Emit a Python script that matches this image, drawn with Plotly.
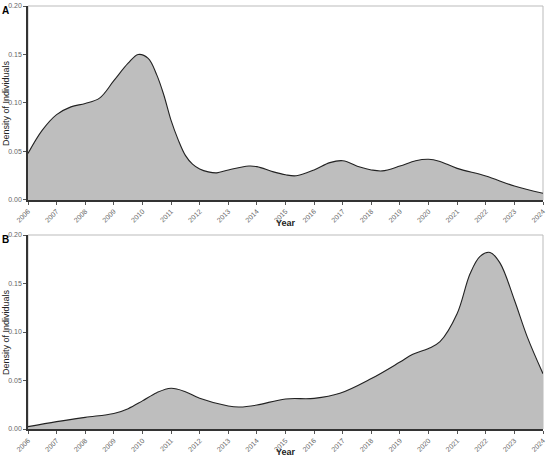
import plotly.graph_objects as go
from plotly.subplots import make_subplots

years_a = [2006, 2006.5, 2007, 2007.5, 2008, 2008.5, 2009, 2009.5, 2009.85, 2010.2, 2010.5, 2010.75, 2011, 2011.25,
           2011.5, 2011.75, 2012, 2012.3, 2012.6, 2013, 2013.72, 2014, 2014.58, 2015, 2015.37, 2016, 2016.55, 2017,
           2017.6, 2018, 2018.38, 2019, 2019.55, 2020, 2020.37, 2021, 2022, 2023, 2024]
dens_a = [0.048, 0.072, 0.088, 0.096, 0.0995, 0.105, 0.123, 0.141, 0.150, 0.146, 0.129, 0.108, 0.082, 0.062,
          0.046, 0.037, 0.032, 0.029, 0.028, 0.031, 0.035, 0.0344, 0.029, 0.026, 0.025, 0.031, 0.0385, 0.0405,
          0.034, 0.031, 0.030, 0.035, 0.0405, 0.042, 0.040, 0.0326, 0.0247, 0.0144, 0.0069]

years_b = [2006, 2007, 2008, 2009, 2009.5, 2010, 2010.5, 2011, 2011.5, 2012, 2013, 2013.4, 2014, 2015, 2016,
           2016.9, 2018, 2019, 2019.45, 2020, 2020.4, 2021, 2021.45, 2021.8, 2022.15, 2022.5, 2023, 2023.45, 2024]
dens_b = [0.0024, 0.0076, 0.012, 0.016, 0.021, 0.029, 0.0375, 0.042, 0.0385, 0.0316, 0.0237, 0.0227, 0.0247, 0.031,
          0.0316, 0.0368, 0.052, 0.069, 0.077, 0.083, 0.090, 0.119, 0.160, 0.178, 0.182, 0.171, 0.133, 0.095, 0.057]

year_ticks = list(range(2006, 2025))
y_ticks = [0.0, 0.05, 0.10, 0.15, 0.20]
y_tick_labels = ["0.00", "0.05", "0.10", "0.15", "0.20"]
panel_labels = ["A", "B"]
x_title = "Year"
y_title = "Density of Individuals"

FONT = "Liberation Sans, Arial, sans-serif"
W, H = 550, 458
ML, MR, MT, MB = 28, 7, 6, 29
PH = H - MT - MB

fig = make_subplots(rows=2, cols=1, vertical_spacing=0.0828)

for i, (xs, ys) in enumerate([(years_a, dens_a), (years_b, dens_b)], start=1):
    fig.add_trace(go.Scatter(x=xs, y=ys, mode="lines",
                             line=dict(color="#222222", width=1.1, shape="spline", smoothing=1.0),
                             fill="tozeroy", fillcolor="#BEBEBE", showlegend=False, hoverinfo="skip"), row=i, col=1)
    fig.update_xaxes(row=i, col=1, range=[2006, 2024], tickvals=year_ticks, ticktext=[str(y) for y in year_ticks],
                     tickangle=-45, tickfont=dict(size=7, color="#666666", family=FONT), automargin=False,
                     showgrid=False, zeroline=False, showline=True, linecolor="#333333", linewidth=1.5,
                     ticks="outside", ticklen=3, tickcolor="#555555", tickwidth=1)
    fig.update_yaxes(row=i, col=1, range=[0, 0.2], tickvals=y_ticks, ticktext=y_tick_labels,
                     tickfont=dict(size=7, color="#666666", family=FONT), automargin=False,
                     showgrid=False, zeroline=False, showline=True, linecolor="#333333", linewidth=1.5,
                     ticks="outside", ticklen=3, tickcolor="#555555", tickwidth=1)
    xref = "x domain" if i == 1 else "x2 domain"
    yref = "y domain" if i == 1 else "y2 domain"
    fig.add_shape(type="rect", xref=xref, yref=yref, x0=0, x1=1, y0=0, y1=1,
                  line=dict(color="#BBBBBB", width=1), layer="below")

fig.update_layout(
    width=W, height=H,
    margin=dict(l=ML, r=MR, t=MT, b=MB),
    paper_bgcolor="white", plot_bgcolor="white",
    font=dict(family=FONT),
)
fig.layout.yaxis.domain = [0.5414, 1.0]
fig.layout.yaxis2.domain = [0.0, 0.4586]

def py(pix):
    return (H - MB - pix) / PH

def px(pix):
    return (pix - ML) / (W - ML - MR)

for lab, ypix in zip(panel_labels, [10, 239]):
    fig.add_annotation(text="<b>" + lab + "</b>", xref="paper", yref="paper", x=px(5), y=py(ypix),
                       showarrow=False, font=dict(size=10, color="black", family=FONT),
                       xanchor="center", yanchor="middle")

for ymid, ytitle_pix in [(103, 223), (332, 452)]:
    fig.add_annotation(text=y_title, xref="paper", yref="paper", x=px(6), y=py(ymid), textangle=-90,
                       showarrow=False, font=dict(size=9, color="#222222", family=FONT),
                       xanchor="center", yanchor="middle")
    fig.add_annotation(text="<b>" + x_title + "</b>", xref="paper", yref="paper", x=px(286), y=py(ytitle_pix),
                       showarrow=False, font=dict(size=9, color="#222222", family=FONT),
                       xanchor="center", yanchor="middle")

fig.write_html("out.html", config={"displayModeBar": False},
               post_script="document.body.style.margin='0';document.body.style.overflow='hidden';")
